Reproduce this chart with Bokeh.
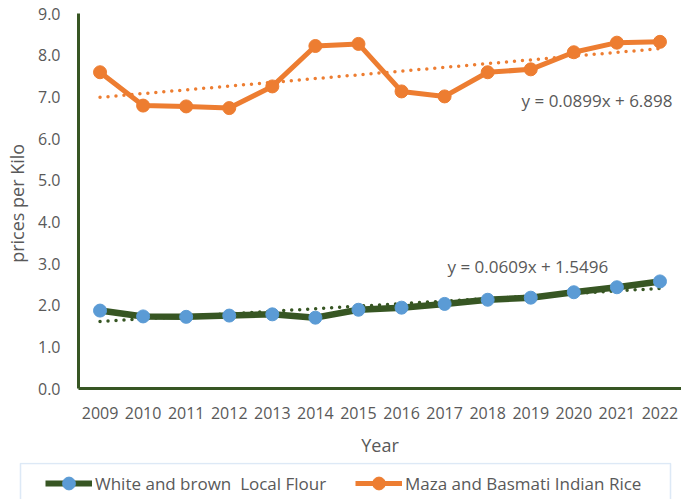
from bokeh.plotting import figure
from bokeh.layouts import column
from bokeh.models import (Range1d, FixedTicker, NumeralTickFormatter, Legend, LegendItem,
                          BoxAnnotation, Label)
from bokeh.embed import file_html
from bokeh.resources import INLINE

years = [2009, 2010, 2011, 2012, 2013, 2014, 2015, 2016, 2017, 2018, 2019, 2020, 2021, 2022]
flour = [1.87, 1.73, 1.72, 1.75, 1.78, 1.70, 1.89, 1.94, 2.03, 2.13, 2.18, 2.31, 2.43, 2.57]
rice = [7.59, 6.79, 6.77, 6.73, 7.25, 8.22, 8.27, 7.13, 7.01, 7.59, 7.66, 8.07, 8.30, 8.32]
flour_trend = (0.0609, 1.5496)
rice_trend = (0.0899, 6.898)
flour_label = "White and brown  Local Flour"
rice_label = "Maza and Basmati Indian Rice"
y_ticks = [0, 1, 2, 3, 4, 5, 6, 7, 8, 9]

FONT = "Open Sans"
GRAY = "#595959"
GREEN = "#375623"
ORANGE = "#ED7D31"
BLUE = "#5B9BD5"

idx = list(range(1, len(years) + 1))
flour_fit = [flour_trend[0] * i + flour_trend[1] for i in idx]
rice_fit = [rice_trend[0] * i + rice_trend[1] for i in idx]

p = figure(width=681, height=462, output_backend="svg", toolbar_location=None,
           x_range=Range1d(2008.5, 2022.5), y_range=Range1d(0, 9),
           min_border_left=78, min_border_right=0, min_border_top=13, min_border_bottom=74)
p.frame_align = False
p.outline_line_color = None
p.xgrid.visible = False
p.ygrid.visible = False

# trend lines
p.line(years, rice_fit, line_color=ORANGE, line_width=3.5, line_dash="0 8", line_cap="round")
p.line(years, flour_fit, line_color=GREEN, line_width=3.5, line_dash="0 8", line_cap="round")

p.line(years, flour, line_color=GREEN, line_width=6.5)
p.scatter(years, flour, size=13, fill_color=BLUE, line_color=BLUE)
p.line(years, rice, line_color=ORANGE, line_width=5)
p.scatter(years, rice, size=13, fill_color=ORANGE, line_color=ORANGE)

for ax in (p.xaxis[0], p.yaxis[0]):
    ax.axis_line_color = GREEN
    ax.axis_line_width = 3
    ax.major_tick_line_color = None
    ax.minor_tick_line_color = None
    ax.major_tick_out = 0
    ax.major_tick_in = 0
    ax.major_label_text_font = FONT
    ax.major_label_text_font_size = "16px"
    ax.major_label_text_color = GRAY
    ax.axis_label_text_font = FONT
    ax.axis_label_text_font_size = "18px"
    ax.axis_label_text_color = GRAY
    ax.axis_label_text_font_style = "normal"

p.xaxis.ticker = FixedTicker(ticks=years)
p.xaxis.major_label_standoff = 18
p.xaxis.axis_label = "Year"
p.xaxis.axis_label_standoff = 11

p.yaxis.ticker = FixedTicker(ticks=y_ticks)
p.yaxis.formatter = NumeralTickFormatter(format="0.0")
p.yaxis.major_label_standoff = 18
p.yaxis.axis_label = "prices  per Kilo"
p.yaxis.axis_label_standoff = 6

p.add_layout(Label(x=672 - 78, y=388 - 100, x_units="screen", y_units="screen",
                   text=f"y = {rice_trend[0]}x + {rice_trend[1]}", text_align="right",
                   text_baseline="middle", text_font=FONT, text_font_size="17px",
                   text_color=GRAY))
p.add_layout(Label(x=447 - 78, y=388 - 266, x_units="screen", y_units="screen",
                   text=f"y = {flour_trend[0]}x + {flour_trend[1]}", text_align="left",
                   text_baseline="middle", text_font=FONT, text_font_size="17px",
                   text_color=GRAY))

# legend strip
lg = figure(width=681, height=37, output_backend="svg", toolbar_location=None,
            x_range=Range1d(0, 681), y_range=Range1d(0, 37),
            x_axis_location=None, y_axis_location=None,
            min_border_left=0, min_border_right=0, min_border_top=0, min_border_bottom=0)
lg.frame_align = False
lg.outline_line_color = None
lg.xgrid.visible = False
lg.ygrid.visible = False
lg.add_layout(BoxAnnotation(left=20, right=670, top=36, bottom=-20, fill_alpha=0,
                            line_color="#8FB6E0", line_width=1.5))
fl = lg.line([-50, -40], [-50, -50], line_color=GREEN, line_width=6)
fs = lg.scatter([-45], [-50], size=13, fill_color=BLUE, line_color=BLUE)
rl = lg.line([-50, -40], [-50, -50], line_color=ORANGE, line_width=5)
rs = lg.scatter([-45], [-50], size=13, fill_color=ORANGE, line_color=ORANGE)

legend = Legend(items=[LegendItem(label=flour_label, renderers=[fl, fs]),
                       LegendItem(label=rice_label, renderers=[rl, rs])],
                orientation="horizontal", location=(43, -2),
                padding=2, spacing=10, glyph_width=47, glyph_height=32,
                label_height=32, label_standoff=3, label_width=250,
                label_text_font=FONT, label_text_font_size="17px", label_text_color=GRAY,
                border_line_alpha=0, background_fill_alpha=0, margin=0)
lg.add_layout(legend, "center")

out = column(p, lg, spacing=0)
open("out.html", "w").write(file_html(out, INLINE))
